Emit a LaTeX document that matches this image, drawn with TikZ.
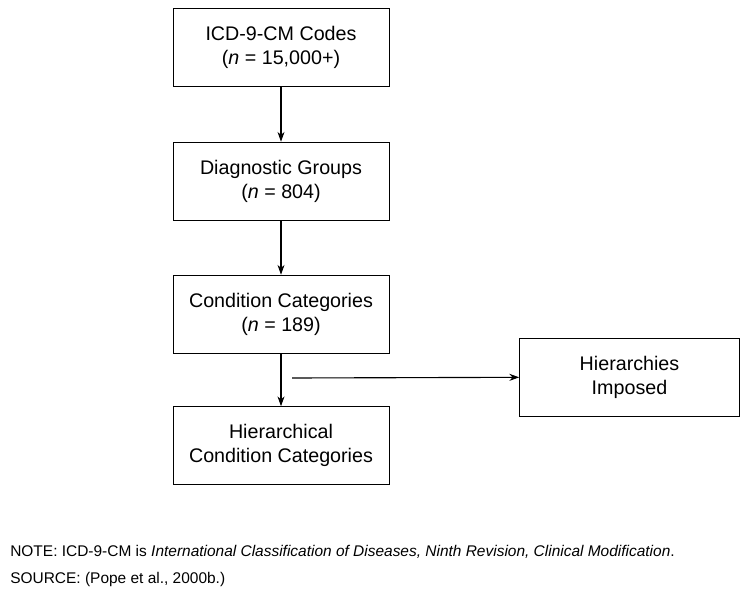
\documentclass[tikz,border=0pt]{standalone}
\usepackage{fontspec}
\setmainfont{Liberation Sans}
\usetikzlibrary{positioning,arrows.meta}
\tikzset{
	stepbox/.style = {draw=black, align=center, minimum width=5.4cm, minimum height=1.95cm, font=\fontsize{14}{17}\selectfont, inner sep=2pt},
	sidebox/.style = {stepbox, minimum width=5.5cm},
	flow/.style = {-{Stealth[length=7pt,width=5pt]}, thick},
	note/.style = {anchor=west, inner sep=0pt, font=\fontsize{11}{13}\selectfont}
}
\begin{document}
\begin{tikzpicture}[x=0.025cm, y=-0.025cm]
\useasboundingbox (0,0) rectangle (752,602);
% main chain
\node [stepbox] (codes) at (281,47.5) {ICD-9-CM Codes\\(\textit{n} = 15,000+)};
\node [stepbox] (groups) at (281,181) {Diagnostic Groups\\(\textit{n} = 804)};
\node [stepbox] (cats) at (281,314) {Condition Categories\\(\textit{n} = 189)};
\node [stepbox] (hcc) at (281,445.5) {Hierarchical\\Condition Categories};
\node [sidebox] (hier) at (629.5,377) {Hierarchies\\Imposed};
\coordinate (split) at (292,378);
\draw [flow] (codes) -- (groups);
\draw [flow] (groups) -- (cats);
\draw [flow] (cats) -- (hcc);
\draw [flow] (split) -- (hier);
% notes
\node [note] (notetext) at (10,552) {NOTE: ICD-9-CM is \textit{International Classification of Diseases, Ninth Revision, Clinical Modification}.};
\node [note] (source) at (10,580) {SOURCE: (Pope et al., 2000b.)};
\end{tikzpicture}
\end{document}
